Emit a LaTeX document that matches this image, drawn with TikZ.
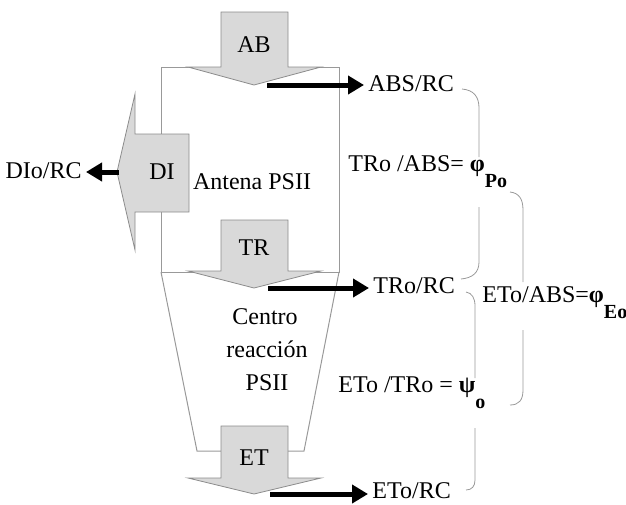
\documentclass[tikz,border=0pt]{standalone}
\usepackage{fontspec}
\setmainfont{Liberation Serif}
\usetikzlibrary{arrows.meta}
\tikzset{
  caja/.style={draw=black!40, line width=0.5pt},
  flecha/.style={draw=black!45, fill=black!15, line width=0.4pt},
  salida/.style={line width=2.5pt, -{Triangle[length=8pt,width=9pt]}},
  llave/.style={draw=black!40, line width=0.4pt},
  rotulo/.style={inner sep=2pt}
}
\newcommand{\subn}[1]{\raisebox{-8pt}{\fontsize{10}{12}\selectfont\bfseries #1}}
\begin{document}
\begin{tikzpicture}[x=0.5pt, y=-0.5pt, font=\fontsize{12}{14}\selectfont]
    \useasboundingbox (0, 0) rectangle (626, 504);

    % antena y centro de reaccion
    \draw[caja] (161, 67) -- (339, 67) -- (339, 272) -- (161, 272) -- cycle;
        \draw[caja] (161, 272) -- (197, 451) -- (221, 451);
        \draw[caja] (339, 272) -- (304, 451) -- (288, 451);

    % flechas grises
    \draw[flecha] (221, 12) -- (288, 12) -- (288, 67) -- (321, 67) -- (254, 85)
        -- (188, 67) -- (221, 67) -- cycle;
    \draw[flecha] (221, 220) -- (288, 220) -- (288, 271) -- (321, 271) -- (254, 288)
        -- (188, 271) -- (221, 271) -- cycle;
    \draw[flecha] (221, 426) -- (288, 426) -- (288, 478) -- (321, 478) -- (254, 494)
        -- (188, 478) -- (221, 478) -- cycle;
    \draw[flecha] (189, 134) -- (135, 134) -- (135, 94) -- (117, 172) -- (135, 250)
        -- (135, 212) -- (189, 212) -- cycle;

    \node (ab) at(254, 45){AB};
    \node (tr) at(254, 248){TR};
    \node (et) at(254, 458){ET};
    \node (di) at(162, 172){DI};
    \node (antena) at(252, 182){Antena PSII};
    \node (centro) at(265, 317){Centro};
    \node (reac) at(267, 349){reacción};
    \node (psii) at(267, 383){PSII};

    % salidas
    \node[rotulo, anchor=west] (absrc) at(364, 84){ABS/RC};
    \node[rotulo, anchor=west] (trorc) at(369, 286){TRo/RC};
    \node[rotulo, anchor=west] (etorc) at(368, 491){ETo/RC};
    \node[rotulo, anchor=east] (diorc) at(86, 171){DIo/RC};

    \coordinate (abfin) at(267, 85);
    \coordinate (trfin) at(268, 288);
    \coordinate (etfin) at(270, 494);
    \coordinate (difin) at(119, 172);
    \draw[salida] (abfin) -- (absrc.west |- abfin);
    \draw[salida] (trfin) -- (trorc.west |- trfin);
    \draw[salida] (etfin) -- (etorc.west |- etfin);
    \draw[salida] (difin) -- (diorc.east |- difin);

    % rendimientos
    \node[rotulo, anchor=west] (phipo) at(344, 172){TRo /ABS= \textbf{φ}\subn{Po}};
    \node[rotulo, anchor=west] (phieo) at(478, 303){ETo/ABS=\textbf{φ}\subn{Eo}};
    \node[rotulo, anchor=west] (psio) at(334, 393){ETo /TRo = \textbf{ψ}\subn{o}};

    % llaves
    \draw[llave] (462, 89) .. controls (474, 90) and (479, 97) .. (479, 108) -- (479, 157);
    \draw[llave] (479, 207) -- (479, 262) .. controls (479, 273) and (472, 278) .. (461, 279);
    \draw[llave] (510, 192) .. controls (519, 193) and (523, 199) .. (523, 210) -- (523, 282);
    \draw[llave] (523, 330) -- (523, 390) .. controls (523, 400) and (519, 405) .. (510, 405);
    \draw[llave] (466, 292) .. controls (472, 293) and (475, 298) .. (475, 306) -- (475, 378);
    \draw[llave] (475, 428) -- (475, 480) .. controls (475, 486) and (472, 490) .. (466, 490);
\end{tikzpicture}
\end{document}
